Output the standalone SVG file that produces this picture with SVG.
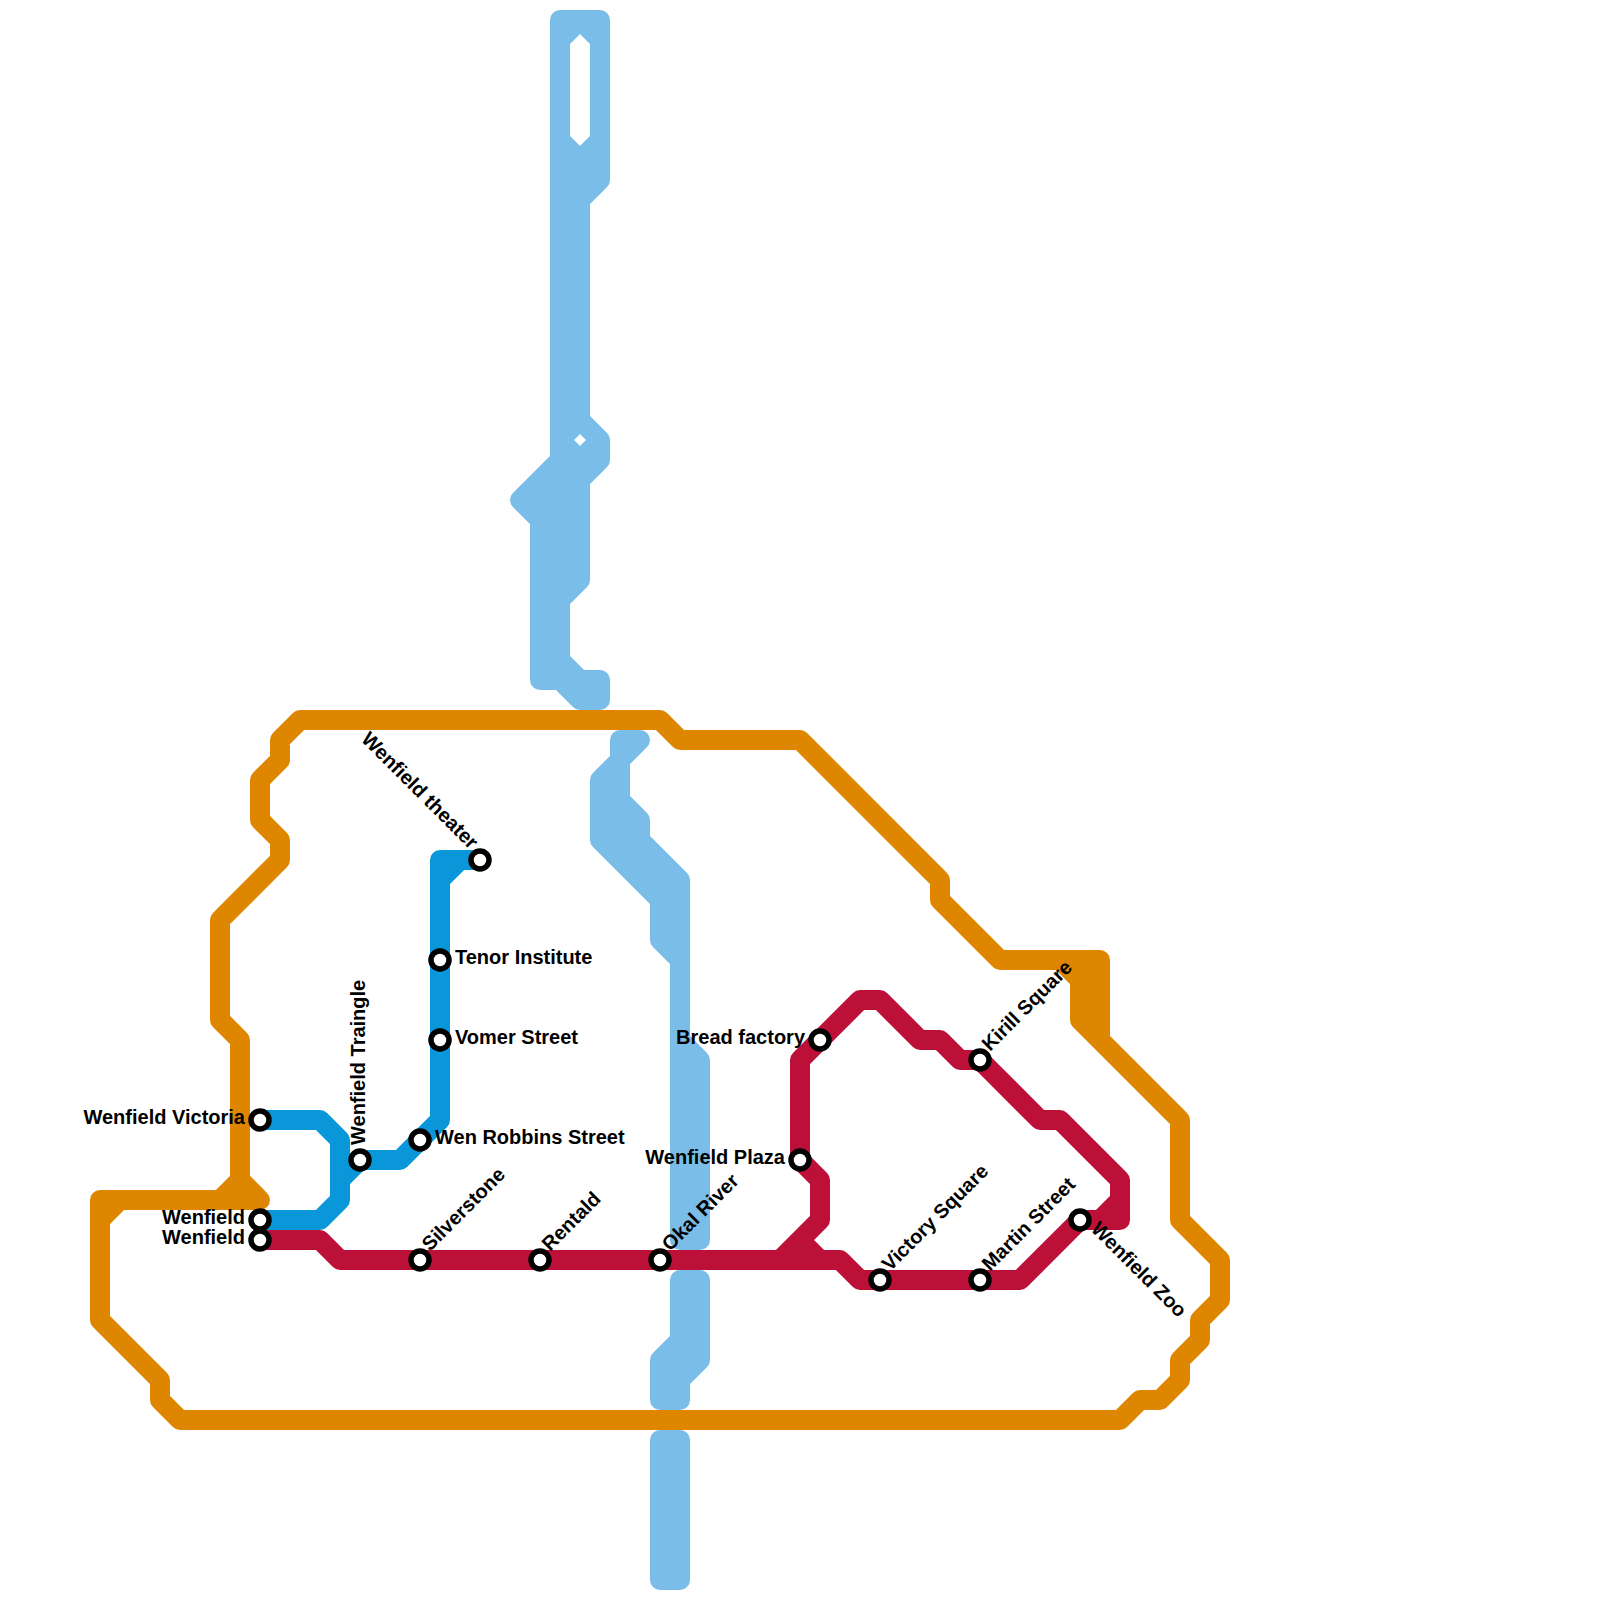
<svg xmlns="http://www.w3.org/2000/svg" width="1600" height="1600" viewBox="0 0 1600 1600">
<style>
.l{fill:none;stroke-width:20;stroke-linecap:round;stroke-linejoin:round}
.w{stroke:#7bbde9}.o{stroke:#de8600}.b{stroke:#0a97d9}.r{stroke:#bd1038}
.s{fill:#fff;stroke:#000;stroke-width:5.5}
text{font-family:"Liberation Sans",Arial,sans-serif;font-size:20px;font-weight:700;fill:#000}
</style>
<rect width="1600" height="1600" fill="#fff"/>
<g id="connectors">
<g id="river">
<path class="l w" d="M560 20H600V180L580 200M560 20V500M580 160V420M580 460V580L560 600V660L580 680H600V700H580L560 680H540V500L560 480M560 40L580 20L600 40M560 140L580 160L600 140M580 420L600 440V460L580 480M600 440L580 460L560 440L580 420M560 460L520 500L540 520"/>
<path class="l w" d="M560 500V680M620 740H640L620 760V840L640 840L680 880V1240H700V1060L680 1040M640 820V840M620 800L640 820M620 740V760L600 780V840L660 900V940L680 960M620 800L600 820M620 840L660 880V920M680 1280V1340L660 1360V1400H680V1280M700 1280V1360L680 1380M680 1280H700M660 1440V1580H680V1440Z"/>
</g>
<path id="line-orange" class="l o" d="M100 1200H260L240 1180L220 1200M240 1180V1040L220 1020V920L280 860V840L260 820V780L280 760V740L300 720H660L680 740H800L940 880V900L1000 960H1100V1040L1180 1120V1220L1220 1260V1300L1200 1320V1340L1180 1360V1380L1160 1400H1140L1120 1420H180L160 1400V1380L100 1320V1200M100 1220L120 1200M1060 960L1080 980V1020L1100 1040M1080 960V1020"/>
<path id="line-blue" class="l b" d="M260 1120H320L340 1140V1200L320 1220H260M340 1180L360 1160H400L440 1120V860H480M440 880L460 860"/>
<path id="line-red" class="l r" d="M260 1240H320L340 1260H840L860 1280H1020L1080 1220H1120V1180L1060 1120H1040L980 1060H960L940 1040H920L880 1000H860L800 1060V1160L820 1180V1220L780 1260M800 1240L820 1260M1120 1200L1100 1220"/>
</g>
<g id="n1"><circle class="s" cx="260" cy="1120" r="9"/><text x="245" y="1124" text-anchor="end">Wenfield Victoria</text></g>
<g id="n2"><circle class="s" cx="260" cy="1220" r="9"/><text x="245" y="1224" text-anchor="end">Wenfield</text></g>
<g id="n3"><circle class="s" cx="260" cy="1240" r="9"/><text x="245" y="1244" text-anchor="end">Wenfield</text></g>
<g id="n4"><circle class="s" cx="360" cy="1160" r="9"/><text transform="translate(365 1145) rotate(-90)">Wenfield Traingle</text></g>
<g id="n5"><circle class="s" cx="420" cy="1140" r="9"/><text x="435" y="1144">Wen Robbins Street</text></g>
<g id="n6"><circle class="s" cx="440" cy="960" r="9"/><text x="455" y="964">Tenor Institute</text></g>
<g id="n7"><circle class="s" cx="440" cy="1040" r="9"/><text x="455" y="1044">Vomer Street</text></g>
<g id="n8"><circle class="s" cx="480" cy="860" r="9"/><text transform="translate(470 850) rotate(45)" text-anchor="end">Wenfield theater</text></g>
<g id="n9"><circle class="s" cx="420" cy="1260" r="9"/><text transform="translate(430 1252) rotate(-45)">Silverstone</text></g>
<g id="n10"><circle class="s" cx="540" cy="1260" r="9"/><text transform="translate(550 1252) rotate(-45)">Rentald</text></g>
<g id="n11"><circle class="s" cx="660" cy="1260" r="9"/><text transform="translate(670 1252) rotate(-45)">Okal River</text></g>
<g id="n12"><circle class="s" cx="800" cy="1160" r="9"/><text x="785" y="1164" text-anchor="end">Wenfield Plaza</text></g>
<g id="n13"><circle class="s" cx="820" cy="1040" r="9"/><text x="805" y="1044" text-anchor="end">Bread factory</text></g>
<g id="n14"><circle class="s" cx="880" cy="1280" r="9"/><text transform="translate(890 1272) rotate(-45)">Victory Square</text></g>
<g id="n15"><circle class="s" cx="980" cy="1280" r="9"/><text transform="translate(990 1272) rotate(-45)">Martin Street</text></g>
<g id="n16"><circle class="s" cx="980" cy="1060" r="9"/><text transform="translate(990 1052) rotate(-45)">Kirill Square</text></g>
<g id="n17"><circle class="s" cx="1080" cy="1220" r="9"/><text transform="translate(1090 1230) rotate(45)">Wenfield Zoo</text></g>
</svg>
